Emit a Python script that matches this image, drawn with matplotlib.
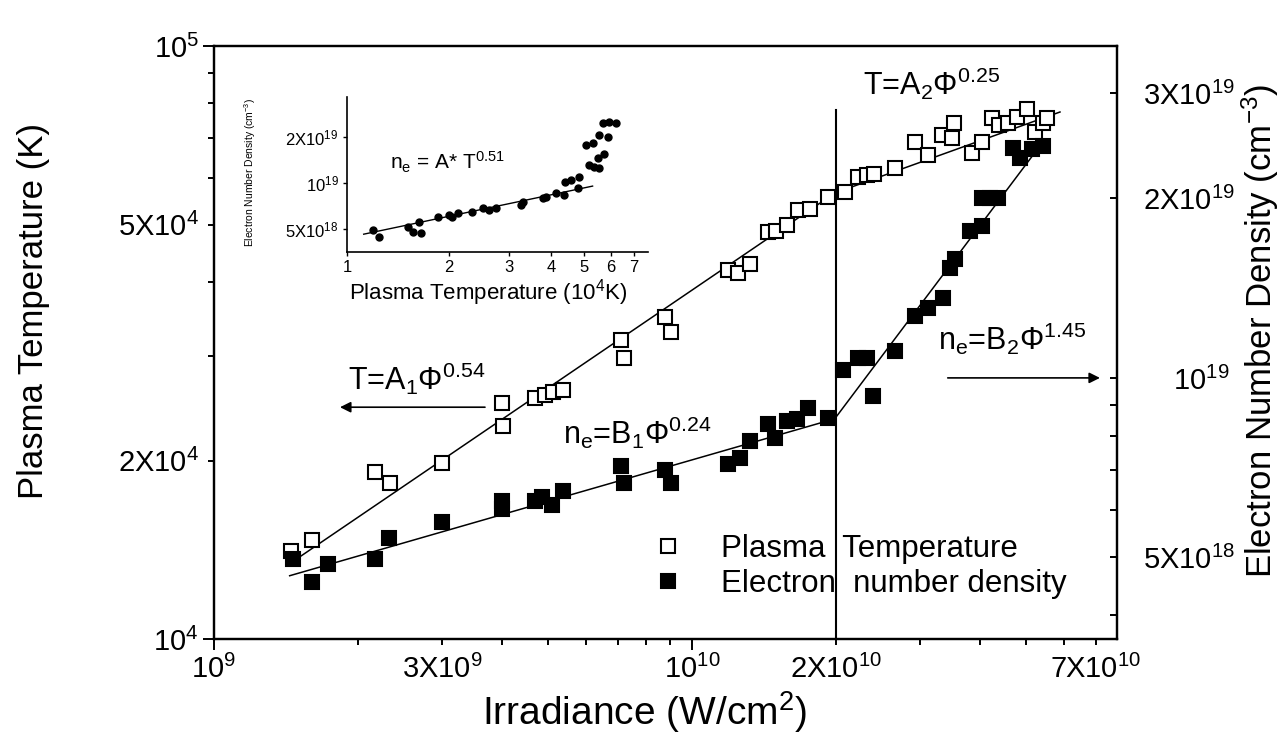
import matplotlib
matplotlib.use("Agg")
import matplotlib.pyplot as plt
from matplotlib.ticker import FixedLocator, FuncFormatter
from matplotlib.lines import Line2D

plt.rcParams['font.family'] = ['Liberation Sans', 'DejaVu Sans']
plt.rcParams['mathtext.default'] = 'regular'

# ---- main panel: plasma temperature (open squares) ----
irr_T = [1.45e9, 1.60e9, 2.17e9, 2.33e9, 3.00e9, 4.00e9, 4.02e9, 4.69e9, 4.93e9, 5.12e9,
         5.37e9, 7.10e9, 7.21e9, 8.78e9, 9.04e9, 1.19e10, 1.25e10, 1.32e10, 1.44e10, 1.50e10,
         1.58e10, 1.67e10, 1.77e10, 1.93e10, 2.09e10, 2.23e10, 2.32e10, 2.41e10, 2.66e10, 2.93e10,
         3.12e10, 3.33e10, 3.50e10, 3.53e10, 3.85e10, 4.04e10, 4.24e10, 4.39e10, 4.58e10, 4.79e10,
         5.02e10, 5.22e10, 5.42e10, 5.53e10]
temp = [1.41e4, 1.47e4, 1.91e4, 1.83e4, 1.98e4, 2.50e4, 2.29e4, 2.55e4, 2.58e4, 2.61e4,
        2.63e4, 3.19e4, 2.98e4, 3.49e4, 3.29e4, 4.19e4, 4.14e4, 4.29e4, 4.86e4, 4.88e4,
        4.99e4, 5.29e4, 5.31e4, 5.57e4, 5.67e4, 6.01e4, 6.06e4, 6.08e4, 6.23e4, 6.89e4,
        6.55e4, 7.08e4, 7.00e4, 7.42e4, 6.60e4, 6.89e4, 7.56e4, 7.36e4, 7.42e4, 7.59e4,
        7.83e4, 7.16e4, 7.42e4, 7.56e4]

# ---- main panel: electron number density (filled squares) ----
irr_ne = [1.46e9, 1.60e9, 1.73e9, 2.17e9, 2.32e9, 3.00e9, 4.00e9, 4.00e9, 4.69e9, 4.86e9,
          5.10e9, 5.37e9, 7.10e9, 7.21e9, 8.78e9, 9.04e9, 1.19e10, 1.26e10, 1.32e10, 1.44e10,
          1.49e10, 1.58e10, 1.66e10, 1.75e10, 1.93e10, 2.07e10, 2.23e10, 2.32e10, 2.39e10, 2.66e10,
          2.93e10, 3.12e10, 3.35e10, 3.47e10, 3.55e10, 3.82e10, 4.04e10, 4.04e10, 4.20e10, 4.37e10,
          4.69e10, 4.86e10, 5.15e10, 5.42e10]
ne = [4.98e18, 4.54e18, 4.88e18, 4.98e18, 5.40e18, 5.74e18, 6.22e18, 6.03e18, 6.22e18, 6.32e18,
      6.13e18, 6.47e18, 7.12e18, 6.67e18, 7.01e18, 6.67e18, 7.18e18, 7.35e18, 7.84e18, 8.38e18,
      7.93e18, 8.47e18, 8.54e18, 8.91e18, 8.57e18, 1.03e19, 1.08e19, 1.08e19, 9.33e18, 1.11e19,
      1.27e19, 1.31e19, 1.36e19, 1.53e19, 1.58e19, 1.76e19, 1.80e19, 2.00e19, 2.00e19, 2.00e19,
      2.43e19, 2.34e19, 2.42e19, 2.45e19]

# fit segments (end points)
fitT1_x, fitT1_y = [1.51e9, 1.99e10], [1.375e4, 5.65e4]
fitT2_x, fitT2_y = [1.99e10, 5.89e10], [5.65e4, 7.74e4]
fitN1_x, fitN1_y = [1.44e9, 1.99e10], [4.66e18, 8.54e18]
fitN2_x, fitN2_y = [1.99e10, 5.35e10], [8.54e18, 2.45e19]
split_x, split_y = [2e10, 2e10], [1e4, 7.8e4]

# arrows
arrowT_from, arrowT_to = (3.69e9, 2.46e4), (1.835e9, 2.46e4)
arrowN_from, arrowN_to = (3.43e10, 1e19), (7.14e10, 1e19)

# ---- inset: n_e vs T ----
ins_T = [1.19, 1.24, 1.51, 1.56, 1.63, 1.65, 1.85, 2.00, 2.04, 2.12, 2.34, 2.51,
         2.62, 2.75, 3.25, 3.29, 3.77, 3.86, 4.13, 4.37, 4.40, 4.57, 4.78, 4.84,
         5.18, 5.06, 5.29, 5.35, 5.48, 5.73, 5.54, 5.86, 5.66, 5.93, 6.20, 5.54]
ins_ne = [4.93e18, 4.46e18, 5.18e18, 4.81e18, 5.58e18, 4.69e18, 6.02e18, 6.18e18, 6.02e18,
          6.34e18, 6.49e18, 6.83e18, 6.66e18, 6.83e18, 7.18e18, 7.55e18, 7.94e18, 8.14e18,
          8.56e18, 8.35e18, 1.02e19, 1.046e19, 9.23e18, 1.10e19, 1.31e19, 1.77e19, 1.82e19,
          1.28e19, 1.45e19, 1.56e19, 2.06e19, 2.01e19, 2.45e19, 2.52e19, 2.45e19, 1.25e19]
ins_fit_x, ins_fit_y = [1.12, 5.29], [4.64e18, 9.56e18]


def labeller(pairs):
    def f(v, pos):
        for val, txt in pairs:
            if abs(v / val - 1) < 1e-6:
                return txt
        return ""
    return FuncFormatter(f)


fig = plt.figure(figsize=(12.79, 7.46), dpi=100)
ax = fig.add_axes([0.1673, 0.1434, 0.7060, 0.7949])
ax2 = ax.twinx()

sq = dict(ls="none", marker="s", ms=9.5, mew=1.5, mec="black")
ax.plot(irr_T, temp, mfc="white", **sq, zorder=3)
ax2.plot(irr_ne, ne, mfc="black", **sq, zorder=3)

ax.plot(fitT1_x, fitT1_y, color="black", lw=1.1)
ax.plot(fitT2_x, fitT2_y, color="black", lw=1.1)
ax2.plot(fitN1_x, fitN1_y, color="black", lw=1.1)
ax2.plot(fitN2_x, fitN2_y, color="black", lw=1.1)
ax.plot(split_x, split_y, color="black", lw=1.5)

arr = dict(arrowstyle="-|>", color="black", lw=1.2, mutation_scale=16, shrinkA=0, shrinkB=0)
ax.annotate("", xy=arrowT_to, xytext=arrowT_from, arrowprops=arr)
ax2.annotate("", xy=arrowN_to, xytext=arrowN_from, arrowprops=arr)

ax.set_xscale("log")
ax.set_yscale("log")
ax2.set_yscale("log")
ax.set_xlim(1e9, 7.75e10)
ax.set_ylim(1e4, 1e5)
ax2.set_ylim(3.65e18, 3.6e19)

ax.xaxis.set_major_locator(FixedLocator([1e9, 1e10]))
ax.xaxis.set_minor_locator(FixedLocator([2e9, 3e9, 4e9, 5e9, 6e9, 7e9, 8e9, 9e9,
                                         2e10, 3e10, 4e10, 5e10, 6e10, 7e10]))
xl = labeller([(1e9, "10$^9$"), (3e9, "3X10$^9$"), (1e10, "10$^{10}$"),
               (2e10, "2X10$^{10}$"), (7e10, "7X10$^{10}$")])
ax.xaxis.set_major_formatter(xl)
ax.xaxis.set_minor_formatter(xl)

ax.yaxis.set_major_locator(FixedLocator([1e4, 1e5]))
ax.yaxis.set_minor_locator(FixedLocator([2e4, 3e4, 4e4, 5e4, 6e4, 7e4, 8e4, 9e4]))
yl = labeller([(1e4, "10$^4$"), (2e4, "2X10$^4$"), (5e4, "5X10$^4$"), (1e5, "10$^5$")])
ax.yaxis.set_major_formatter(yl)
ax.yaxis.set_minor_formatter(yl)

ax2.yaxis.set_major_locator(FixedLocator([1e19]))
ax2.yaxis.set_minor_locator(FixedLocator([4e18, 5e18, 6e18, 7e18, 8e18, 9e18, 2e19, 3e19]))
rl = labeller([(5e18, "5X10$^{18}$"), (1e19, "10$^{19}$"), (2e19, "2X10$^{19}$"),
               (3e19, "3X10$^{19}$")])
ax2.yaxis.set_major_formatter(rl)
ax2.yaxis.set_minor_formatter(rl)

ax.tick_params(which="major", direction="out", length=8, width=1.4, labelsize=21, pad=3,
               top=False, right=False)
ax.tick_params(which="minor", direction="out", length=4.5, width=1.4, labelsize=21, pad=6.5,
               top=False, right=False)
ax2.tick_params(which="major", direction="in", length=5, width=1.4, labelsize=21, pad=40)
ax2.tick_params(which="minor", direction="in", length=5, width=1.4, labelsize=21, pad=19)
for a in (ax, ax2):
    for s in a.spines.values():
        s.set_linewidth(1.6)

ax.set_xlabel("Irradiance (W/cm$^2$)", fontsize=28)
ax.xaxis.set_label_coords(0.477, -0.085)
ax.set_ylabel("Plasma Temperature (K)", fontsize=25)
ax.yaxis.set_label_coords(-0.182, 0.553)
ax2.set_ylabel("Electron Number Density (cm$^{-3}$)", fontsize=25)
ax2.yaxis.set_label_coords(1.136, 0.52)

ax.text(0.148, 0.42, "T=A$_1$Φ$^{0.54}$", transform=ax.transAxes, fontsize=22, va="baseline")
ax.text(0.3865, 0.329, "n$_e$=B$_1$Φ$^{0.24}$", transform=ax.transAxes, fontsize=22, va="baseline")
ax.text(0.7187, 0.917, "T=A$_2$Φ$^{0.25}$", transform=ax.transAxes, fontsize=22, va="baseline")
ax.text(0.8018, 0.487, "n$_e$=B$_2$Φ$^{1.45}$", transform=ax.transAxes, fontsize=22, va="baseline")

handles = [Line2D([], [], mfc="white", **sq), Line2D([], [], mfc="black", **sq)]
ax2.legend(handles, ["Plasma  Temperature", "Electron  number density"], loc="center left",
           bbox_to_anchor=(0.4855, 0.122), frameon=False, fontsize=22.5, borderpad=0,
           borderaxespad=0, handlelength=1.0, handletextpad=1.2, labelspacing=0.15)

# ---- inset ----
ins = fig.add_axes([0.2713, 0.6622, 0.2353, 0.2078])
ins.set_facecolor("none")
ins.plot(ins_T, ins_ne, ls="none", marker="o", ms=5, color="black")
ins.plot(ins_fit_x, ins_fit_y, color="black", lw=1.0)
ins.set_xscale("log")
ins.set_yscale("log")
ins.set_xlim(1, 7.7)
ins.set_ylim(3.55e18, 3.65e19)
ins.spines["top"].set_visible(False)
ins.spines["right"].set_visible(False)
for s in ("left", "bottom"):
    ins.spines[s].set_linewidth(1.2)
ins.xaxis.set_major_locator(FixedLocator([1]))
ins.xaxis.set_minor_locator(FixedLocator([2, 3, 4, 5, 6, 7]))
il = labeller([(v, str(v)) for v in range(1, 8)])
ins.xaxis.set_major_formatter(il)
ins.xaxis.set_minor_formatter(il)
ins.yaxis.set_major_locator(FixedLocator([1e19]))
ins.yaxis.set_minor_locator(FixedLocator([5e18, 2e19]))
iyl = labeller([(5e18, "5X10$^{18}$"), (1e19, "10$^{19}$"), (2e19, "2X10$^{19}$")])
ins.yaxis.set_major_formatter(iyl)
ins.yaxis.set_minor_formatter(iyl)
ins.tick_params(which="both", direction="out", length=3, width=1.0, labelsize=12, pad=3)
ins.set_xlabel("Plasma Temperature (10$^4$K)", fontsize=16)
ins.xaxis.set_label_coords(0.468, -0.16)
ins.set_ylabel("Electron Number Density (cm$^{-3}$)", fontsize=7.5)
ins.yaxis.set_label_coords(-0.296, 0.516)
ins.text(0.143, 0.53, "n$_e$ = A* T$^{0.51}$", transform=ins.transAxes, fontsize=15,
         va="baseline")

fig.savefig("out.png", dpi=100)
